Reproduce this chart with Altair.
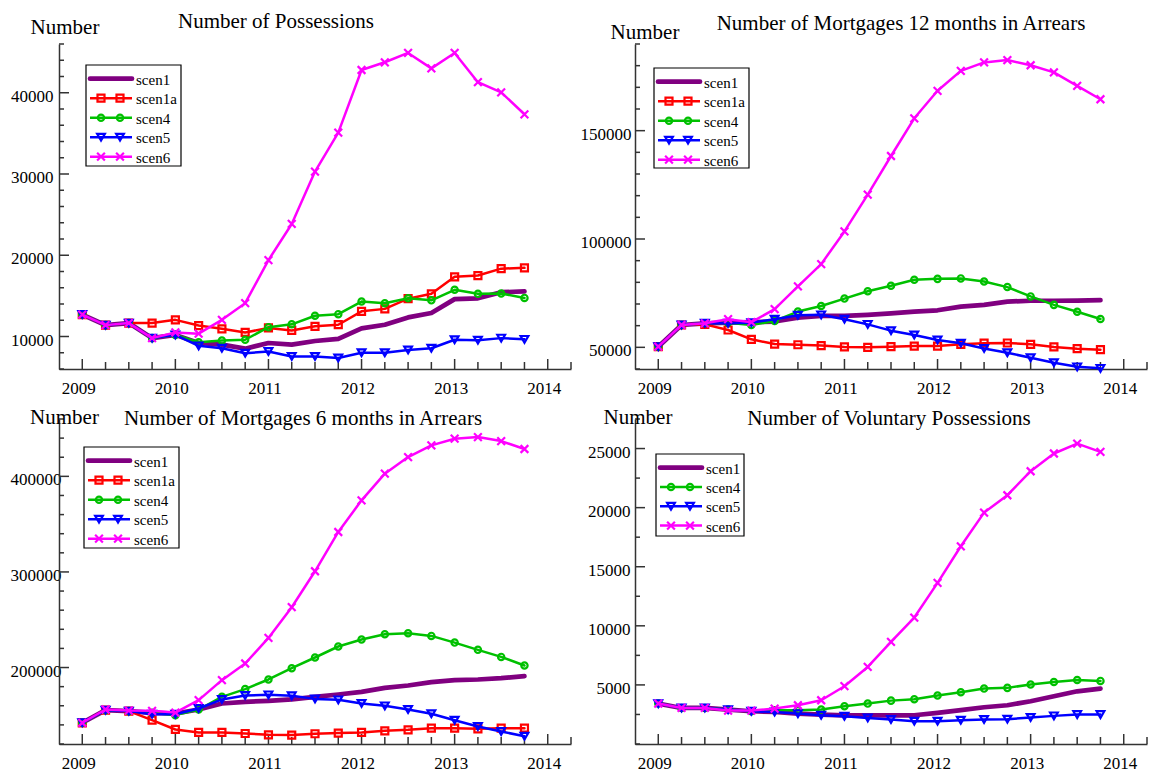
import altair as alt
import numpy as np
import pandas as pd

# Quarterly time index (decimal years)
quarters = [2009.0, 2009.25, 2009.5, 2009.75, 2010.0, 2010.25, 2010.5, 2010.75,
            2011.0, 2011.25, 2011.5, 2011.75, 2012.0, 2012.25, 2012.5, 2012.75,
            2013.0, 2013.25, 2013.5, 2013.75]

# Number of Possessions
poss_scen1 = [12700, 11400, 11650, 9800, 10200, 9200, 9000, 8500, 9200, 9000,
              9450, 9700, 11000, 11450, 12350, 12900, 14600, 14700, 15450, 15550]
poss_scen1a = [12700, 11400, 11650, 11650, 12050, 11350, 10950, 10500, 11050, 10750,
               11250, 11450, 13100, 13400, 14650, 15250, 17350, 17500, 18350, 18450]
poss_scen4 = [12700, 11400, 11650, 9800, 10200, 9300, 9500, 9600, 11150, 11500,
              12550, 12750, 14300, 14100, 14700, 14450, 15750, 15250, 15300, 14750]
poss_scen5 = [12700, 11400, 11650, 9800, 10200, 8850, 8550, 7950, 8150, 7550,
              7550, 7350, 8000, 8000, 8350, 8550, 9600, 9550, 9800, 9650]
poss_scen6 = [12700, 11400, 11650, 9800, 10500, 10350, 12050, 14100, 19400, 23850,
              30300, 35100, 42800, 43750, 44900, 43000, 44900, 41300, 40050, 37350]

# Number of Mortgages 12 months in Arrears
arr12_scen1 = [50300, 60300, 61100, 61400, 61600, 61900, 63700, 64500, 64500, 65000,
               65700, 66500, 67100, 68800, 69600, 71100, 71500, 71500, 71600, 71800]
arr12_scen1a = [50300, 60300, 60600, 58000, 53700, 51500, 51200, 50800, 50200, 50000,
                50300, 50600, 50600, 51400, 51900, 52000, 51400, 50200, 49400, 48900]
arr12_scen4 = [50300, 60300, 61100, 61400, 60300, 62200, 66500, 69100, 72500, 75900,
               78400, 81200, 81600, 81800, 80400, 77800, 73500, 69600, 66400, 63100]
arr12_scen5 = [50300, 60300, 61100, 61100, 61400, 63000, 64800, 65000, 63000, 60600,
               57700, 55700, 53400, 51900, 49500, 47500, 45200, 42900, 41000, 40300]
arr12_scen6 = [50300, 60300, 61100, 63000, 61600, 67600, 78100, 88400, 103500, 120500,
               138300, 155700, 168400, 177600, 181500, 182600, 180200, 176900, 170700, 164500]

# Number of Mortgages 6 months in Arrears
arr6_scen1 = [142200, 155400, 154400, 152600, 151900, 156100, 162400, 164100, 165200, 166600,
              169300, 171800, 174600, 178700, 181200, 184700, 186800, 187500, 188900, 191000]
arr6_scen1a = [142200, 155400, 154400, 144900, 135200, 132100, 132100, 131000, 129600, 129300,
               130700, 131400, 132100, 133800, 134800, 136600, 136600, 135900, 136600, 136600]
arr6_scen4 = [142200, 155400, 154400, 152600, 150200, 156100, 169300, 177400, 187500, 199300,
              210500, 222000, 229300, 234800, 235900, 233100, 226100, 218500, 211100, 202100]
arr6_scen5 = [142200, 155400, 154400, 151200, 151200, 157100, 166600, 170700, 171400, 170400,
              167200, 166200, 162400, 159900, 156100, 151600, 144900, 138300, 133100, 128200]
arr6_scen6 = [142200, 156100, 155000, 154700, 152900, 165900, 186800, 204200, 231000, 263100,
              300700, 341800, 374900, 402800, 420200, 432400, 439400, 441100, 436900, 428600]

# Number of Voluntary Possessions
vol_scen1 = [3420, 3050, 3050, 2910, 2770, 2710, 2570, 2490, 2430, 2430,
             2430, 2430, 2630, 2860, 3110, 3280, 3620, 4040, 4460, 4690]
vol_scen4 = [3420, 3050, 3050, 2910, 2770, 2860, 2860, 2910, 3190, 3420,
             3670, 3790, 4100, 4380, 4690, 4750, 5030, 5250, 5420, 5340]
vol_scen5 = [3420, 3050, 3050, 2910, 2770, 2710, 2570, 2430, 2350, 2210,
             2070, 1930, 1930, 2010, 2070, 2100, 2240, 2380, 2490, 2490]
vol_scen6 = [3420, 3050, 3050, 2830, 2830, 3000, 3280, 3700, 4890, 6520,
             8640, 10700, 13630, 16730, 19580, 21050, 23080, 24580, 25420, 24720]

FONT = "Liberation Serif"
AXIS_GREY = "#333333"
W, H = 512, 325
YEARS = [2009, 2010, 2011, 2012, 2013, 2014]
QUARTER_TICKS = [y + q for y in range(2009, 2015) for q in (0.25, 0.5, 0.75) if y + q <= 2014.25]
X_MARK = "M-1,-1L1,1M-1,1L1,-1"

STYLE = {
    "scen1": {"color": "#800080", "width": 4.7, "shape": None, "size": 0},
    "scen1a": {"color": "#ff0000", "width": 2.5, "shape": "square", "size": 49},
    "scen4": {"color": "#00c000", "width": 2.5, "shape": "circle", "size": 40},
    "scen5": {"color": "#0000ff", "width": 2.5, "shape": "triangle-down", "size": 60},
    "scen6": {"color": "#ff00ff", "width": 2.5, "shape": X_MARK, "size": 60},
}


def text_layer(label, x, y, size, align="center", baseline="alphabetic"):
    return alt.Chart(pd.DataFrame({"label": [label]})).mark_text(
        font=FONT, fontSize=size, color="black", align=align, baseline=baseline
    ).encode(x=alt.value(x), y=alt.value(y), text="label:N")


def panel(title, series, y_domain, y_major, y_step, label_pad,
          title_xy, number_xy, legend_box, row_gap=19.5):
    xs = alt.Scale(domain=[2008.75, 2014.25], nice=False, zero=False)
    ys = alt.Scale(domain=y_domain, nice=False, zero=False)
    x_axis = alt.Axis(values=YEARS, format="d", ticks=False, grid=False, title=None,
                      domainColor=AXIS_GREY, domainWidth=1.5, labelFont=FONT,
                      labelFontSize=17, labelColor="black", labelPadding=11,
                      labelOffset=-4, labelFlush=False, labelOverlap=False)
    y_axis = alt.Axis(values=y_major, format="d", ticks=False, grid=False, title=None,
                      domainColor=AXIS_GREY, domainWidth=1.5, labelFont=FONT,
                      labelFontSize=17, labelColor="black", labelPadding=label_pad,
                      labelOffset=3.5, labelFlush=False, labelOverlap=False)
    X = alt.X("t:Q", scale=xs, axis=x_axis)
    Y = alt.Y("v:Q", scale=ys, axis=y_axis)

    layers = []
    # inward tick marks on both axes
    minor = [v for v in np.arange(y_domain[0], y_domain[1] + 1, y_step) if v not in y_major]
    layers.append(alt.Chart(pd.DataFrame({"v": y_major})).mark_rule(
        color=AXIS_GREY, strokeWidth=1.5).encode(y=Y, x=alt.value(0), x2=alt.value(10)))
    layers.append(alt.Chart(pd.DataFrame({"v": minor})).mark_rule(
        color=AXIS_GREY, strokeWidth=1.5).encode(y=Y, x=alt.value(0), x2=alt.value(5)))
    layers.append(alt.Chart(pd.DataFrame({"t": YEARS})).mark_rule(
        color=AXIS_GREY, strokeWidth=1.5).encode(x=X, y=alt.value(H - 10), y2=alt.value(H)))
    layers.append(alt.Chart(pd.DataFrame({"t": QUARTER_TICKS})).mark_rule(
        color=AXIS_GREY, strokeWidth=1.5).encode(x=X, y=alt.value(H - 7), y2=alt.value(H)))

    # scenario lines with markers
    for name, vals in series.items():
        st = STYLE[name]
        df = pd.DataFrame({"t": quarters, "v": vals})
        layers.append(alt.Chart(df).mark_line(
            color=st["color"], strokeWidth=st["width"], strokeJoin="round", strokeCap="round"
        ).encode(x=X, y=Y))
        if st["shape"]:
            layers.append(alt.Chart(df).mark_point(
                shape=st["shape"], size=st["size"], filled=False, color=st["color"],
                strokeWidth=2.2, opacity=1
            ).encode(x=X, y=Y))

    # legend box
    bx, by, bw, bh = legend_box
    layers.append(alt.Chart(pd.DataFrame({"k": [0]})).mark_rect(
        fill="white", stroke="black", strokeWidth=1.2
    ).encode(x=alt.value(bx), x2=alt.value(bx + bw), y=alt.value(by), y2=alt.value(by + bh)))
    for i, name in enumerate(series):
        st = STYLE[name]
        cy = by + 13.7 + i * row_gap
        row = pd.DataFrame({"series": [name]})
        layers.append(alt.Chart(row).mark_rule(
            color=st["color"], strokeWidth=st["width"], strokeCap="round" if not st["shape"] else "butt"
        ).encode(x=alt.value(bx + 4), x2=alt.value(bx + 46), y=alt.value(cy)))
        if st["shape"]:
            for mx in (bx + 15, bx + 34):
                layers.append(alt.Chart(row).mark_point(
                    shape=st["shape"], size=st["size"], filled=False, color=st["color"],
                    strokeWidth=2.2, opacity=1
                ).encode(x=alt.value(mx), y=alt.value(cy)))
        layers.append(alt.Chart(row).mark_text(
            font=FONT, fontSize=15, color="black", align="left", baseline="middle"
        ).encode(x=alt.value(bx + 50), y=alt.value(cy + 1), text="series:N"))

    # panel heading and unit label
    layers.append(text_layer(title, title_xy[0], title_xy[1], 21))
    layers.append(text_layer("Number", number_xy[0], number_xy[1], 21))

    return alt.layer(*layers).properties(width=W, height=H)


p1 = panel("Number of Possessions",
           {"scen1": poss_scen1, "scen1a": poss_scen1a, "scen4": poss_scen4,
            "scen5": poss_scen5, "scen6": poss_scen6},
           [6000, 46000], [10000, 20000, 30000, 40000], 2000, 6,
           (217, -16.5), (6, -10), (27, 21, 95, 101))
p2 = panel("Number of Mortgages 12 months in Arrears",
           {"scen1": arr12_scen1, "scen1a": arr12_scen1a, "scen4": arr12_scen4,
            "scen5": arr12_scen5, "scen6": arr12_scen6},
           [40000, 190000], [50000, 100000, 150000], 10000, 4,
           (266, -14.5), (10, -5), (19, 24, 95, 100))
p3 = panel("Number of Mortgages 6 months in Arrears",
           {"scen1": arr6_scen1, "scen1a": arr6_scen1a, "scen4": arr6_scen4,
            "scen5": arr6_scen5, "scen6": arr6_scen6},
           [120000, 460000], [200000, 300000, 400000], 20000, -2,
           (244, 6), (5.5, 5.3), (25, 28, 95, 101))
p4 = panel("Number of Voluntary Possessions",
           {"scen1": vol_scen1, "scen4": vol_scen4, "scen5": vol_scen5, "scen6": vol_scen6},
           [0, 27500], [5000, 10000, 15000, 20000, 25000], 2500, 5,
           (254, 6), (3, 5), (21, 35, 88, 82), row_gap=19.3)

chart = alt.concat(p1, p2, p3, p4, columns=2, spacing={"row": 50, "column": 64}).properties(
    bounds="flush",
    padding={"left": 10, "top": 10, "right": 0, "bottom": 0},
).configure_view(strokeWidth=0)

chart.save("out.html", embed_options={"renderer": "svg", "actions": False})
